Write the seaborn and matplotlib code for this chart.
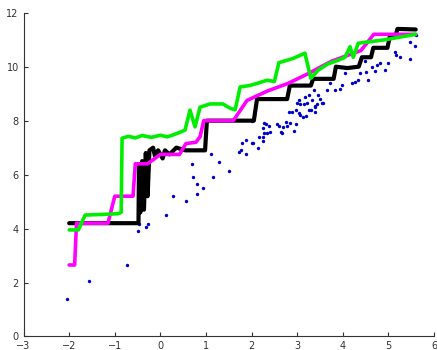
import numpy as np
import pandas as pd
import matplotlib
matplotlib.use("Agg")
import matplotlib.pyplot as plt
import seaborn as sns

# scattered samples (blue dots)
dot_x = [-2.05, -1.56, -0.73, -0.50, -0.46, -0.32, -0.28, 0.125, 0.285, 0.56, 0.80, 0.81,
         0.71, 0.94, 1.15, 0.70, 1.10, 1.29, 1.51, 1.73, 1.76, 1.88, 1.78, 1.88, 2.00, 2.04,
         2.15, 2.16, 2.26, 2.24, 2.28, 2.33, 2.41, 2.25, 2.27, 2.32, 2.39, 2.02, 2.55, 2.60,
         2.64, 2.66, 2.69, 2.78, 2.75, 2.85, 2.82, 2.93, 2.98, 2.88, 2.97, 3.03, 3.06, 3.20,
         2.99, 3.06, 3.14, 3.22, 3.30, 3.39, 3.43, 3.39, 3.54, 3.04, 3.17, 3.25, 3.32, 3.36,
         3.46, 3.50, 3.57, 3.66, 3.72, 3.83, 3.94, 3.98, 4.05, 4.20, 4.27, 4.34, 4.38, 4.52,
         4.56, 4.64, 4.75, 4.82, 4.93, 5.00, 5.15, 5.17, 5.26, 5.48, 5.48, 5.58, 5.60, 3.13,
         3.25, 3.39, 4.49, 4.70]
dot_y = [1.38, 2.06, 2.64, 3.90, 4.17, 4.07, 4.17, 4.50, 5.19, 5.03, 5.27, 5.67,
         5.90, 5.49, 5.92, 6.41, 6.76, 6.45, 6.14, 6.82, 6.93, 6.76, 7.18, 7.29, 7.16, 7.19,
         6.99, 7.38, 7.40, 7.24, 7.53, 7.55, 7.59, 7.71, 7.92, 7.87, 7.80, 7.99, 7.87, 7.80,
         7.59, 7.55, 7.75, 7.80, 7.96, 7.92, 8.33, 7.61, 7.87, 8.33, 8.41, 8.27, 8.20, 8.17,
         8.66, 8.61, 8.61, 8.64, 8.41, 8.33, 8.61, 8.55, 8.66, 8.76, 8.88, 8.94, 8.76, 9.13,
         8.94, 8.82, 8.64, 9.13, 9.38, 9.13, 9.19, 9.31, 9.75, 9.38, 9.44, 9.50, 9.75, 9.81,
         9.50, 9.99, 10.06, 10.12, 9.87, 10.14, 10.55, 10.43, 10.36, 10.30, 10.92, 10.76, 11.17, 8.14,
         8.39, 8.49, 10.21, 9.85]

# black curve
black_x = [-2.0, -0.48, -0.47, -0.44, -0.40, -0.36, -0.32, -0.28, -0.24, -0.16, -0.12, -0.05,
           0.05, 0.10, 0.20, 0.35, 0.55, 0.98, 1.02, 2.05, 2.12, 2.78, 2.84, 3.30, 3.35, 3.80,
           3.85, 4.10, 4.35, 4.42, 4.62, 4.67, 4.98, 5.03, 5.15, 5.20, 5.60]
black_y = [4.2, 4.2, 6.3, 4.6, 6.5, 4.7, 6.8, 5.2, 6.9, 7.0, 6.7, 6.9,
           6.6, 6.9, 6.75, 7.0, 6.9, 6.9, 8.0, 8.0, 8.8, 8.8, 9.3, 9.3, 9.55, 9.55,
           10.0, 9.95, 10.0, 10.35, 10.35, 10.7, 10.7, 11.1, 11.1, 11.4, 11.38]

# magenta curve
mag_x = [-2.0, -1.88, -1.84, -1.15, -1.00, -0.60, -0.55, -0.28, 0.00, 0.42, 0.56, 0.78,
         0.87, 0.95, 1.60, 1.90, 2.35, 2.80, 3.25, 3.75, 4.40, 4.68, 5.60]
mag_y = [2.65, 2.65, 4.2, 4.2, 5.2, 5.2, 6.4, 6.4, 6.75, 6.75, 7.15, 7.2,
         7.4, 8.0, 8.0, 8.75, 9.1, 9.38, 9.75, 10.2, 10.6, 11.2, 11.2]

# green curve
green_x = [-2.0, -1.80, -1.65, -0.93, -0.86, -0.84, -0.70, -0.55, -0.40, -0.20, 0.00, 0.15,
           0.28, 0.43, 0.54, 0.65, 0.76, 0.87, 1.09, 1.37, 1.53, 1.64, 1.75, 1.95, 2.12,
           2.34, 2.50, 2.60, 2.90, 3.17, 3.30, 3.46, 3.67, 3.90, 4.05, 4.16, 4.23, 4.34,
           4.93, 5.60]
green_y = [3.95, 3.95, 4.5, 4.55, 4.6, 7.35, 7.42, 7.36, 7.45, 7.38, 7.46, 7.40,
           7.47, 7.57, 7.65, 8.39, 7.77, 8.50, 8.62, 8.62, 8.46, 8.40, 9.25, 9.30, 9.38,
           9.50, 9.45, 10.15, 10.30, 10.50, 9.57, 9.87, 10.10, 10.24, 10.35, 10.74, 10.35, 10.87,
           11.0, 11.2]

sns.set_style("ticks")

fig = plt.figure(figsize=(4.37, 3.5), dpi=100)
ax = fig.add_axes([0.054, 0.0386, 0.939, 0.925])

dots = pd.DataFrame({"x": dot_x, "y": dot_y})
sns.scatterplot(data=dots, x="x", y="y", color="#0000cc", s=6, linewidth=0, ax=ax, zorder=1)

# drawn in order: black under magenta under green
for xs, ys, col, lw in [(black_x, black_y, "black", 3.0),
                        (mag_x, mag_y, "#ff00ff", 2.6),
                        (green_x, green_y, "#00ee00", 2.6)]:
    d = pd.DataFrame({"x": xs, "y": ys})
    sns.lineplot(data=d, x="x", y="y", color=col, linewidth=lw, sort=False,
                 estimator=None, ax=ax, zorder=2)

ax.set_xlim(-3, 6)
ax.set_ylim(0, 12)
ax.set_xticks(range(-3, 7))
ax.set_yticks(range(0, 13, 2))
ax.set_xlabel("")
ax.set_ylabel("")
ax.tick_params(direction="in", length=3, labelsize=7, colors="#333333")
sns.despine(ax=ax)
for s in ["left", "bottom"]:
    ax.spines[s].set_color("#333333")
    ax.spines[s].set_linewidth(0.8)

plt.savefig("out.png", dpi=100)
